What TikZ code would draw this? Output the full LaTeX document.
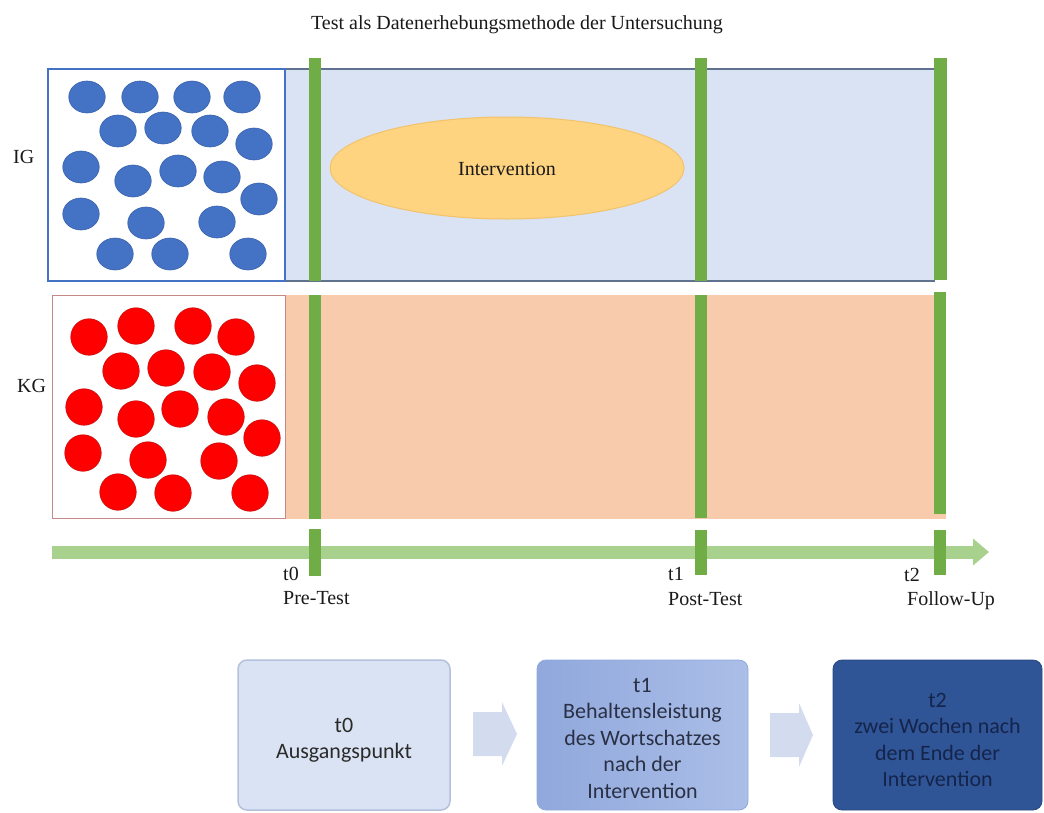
\documentclass[tikz,border=0pt]{standalone}
\usepackage{fontspec}
\setmainfont{Liberation Serif}
\newfontfamily\calib{Carlito}
\usetikzlibrary{shapes.geometric,arrows.meta,calc}
\definecolor{igfill}{HTML}{DAE3F3}
\definecolor{igframe}{HTML}{61728F}
\definecolor{igbox}{HTML}{4472C4}
\definecolor{kgfill}{HTML}{F8CBAD}
\definecolor{kgbox}{HTML}{C48A8A}
\definecolor{bargreen}{HTML}{70AD47}
\definecolor{linegreen}{HTML}{A9D18E}
\definecolor{dotblue}{HTML}{4472C4}
\definecolor{dotblueedge}{HTML}{3A62AC}
\definecolor{dotred}{HTML}{FF0000}
\definecolor{dotrededge}{HTML}{C81010}
\definecolor{ellfill}{HTML}{FFD480}
\definecolor{elledge}{HTML}{F2C26C}
\definecolor{boxA}{HTML}{DAE3F3}
\definecolor{boxAedge}{HTML}{B3C1DC}
\definecolor{boxBl}{HTML}{90A8DC}
\definecolor{boxBr}{HTML}{ABBEE7}
\definecolor{boxC}{HTML}{2F5597}
\definecolor{arrfill}{HTML}{D3DCEE}
\definecolor{txtA}{HTML}{2A2A2A}
\definecolor{txtB}{HTML}{2A3045}
\definecolor{txtC}{HTML}{15244A}
\begin{document}
\begin{tikzpicture}[x=1pt,y=-1pt,
  serif/.style={font=\fontsize{20}{24}\selectfont, inner sep=0, text=black!90},
  dotB/.style={ellipse, minimum width=36.5, minimum height=32, inner sep=0, fill=dotblue, draw=dotblueedge, line width=0.6},
  dotR/.style={circle, minimum size=36.5, inner sep=0, fill=dotred, draw=dotrededge, line width=0.6},
  gbar/.style={fill=bargreen},
  stagebox/.style={rectangle, rounded corners=9, minimum height=150, inner sep=0},
  stagetext/.style={font=\calib\fontsize{22}{26.5}\selectfont, align=center, inner sep=0},
  stagearrow/.style={fill=arrfill}
]
\useasboundingbox (0,0) rectangle (1044,812);

% title
\node[serif, anchor=base] (title) at (517,29) {Test als Datenerhebungsmethode der Untersuchung};

% IG group
\fill[igfill] (48,69) rectangle (935,281);
\draw[igframe, line width=2] (285,69) -- (935,69);
\draw[igframe, line width=2] (285,281) -- (935,281);
\draw[igbox, line width=2, fill=white] (48,69) rectangle (285,281);
\node[serif, anchor=base west] (iglab) at (13,163) {IG};

% KG group
\fill[kgfill] (285,295) rectangle (946,519);
\draw[kgbox, line width=1, fill=white] (52,295) rectangle (285,518);
\node[serif, anchor=base west] (kglab) at (17,392) {KG};

% intervention ellipse
\node[ellipse, fill=ellfill, draw=elledge, line width=1, minimum width=354, minimum height=102, inner sep=0] (interv) at (507,168) {};
\node[serif, anchor=base] (intervlab) at (507,175) {Intervention};

% blue dots
\foreach \i/\x/\y in {1/87/97, 2/140/97, 3/192/97, 4/242/97,
  5/118/131, 6/163/128, 7/210/131, 8/254/144,
  9/81/167, 10/133/181, 11/178/171, 12/222/177, 13/259/199,
  14/81/214, 15/146/223, 16/217/222,
  17/115/254, 18/170/254, 19/248/254}
  \node[dotB] (ig\i) at (\x,\y) {};

% red dots
\foreach \i/\x/\y in {1/89/337, 2/136/326, 3/193/326, 4/236/337,
  5/121/371, 6/166/368, 7/212/372, 8/257/383,
  9/84/407, 10/136/419, 11/180/409, 12/226/417, 13/262/438,
  14/83/453, 15/148/460, 16/219/461,
  17/118/492, 18/173/493, 19/250/493}
  \node[dotR] (kg\i) at (\x,\y) {};

% green bars in groups
\fill[gbar] (309,58) rectangle (321,281);
\fill[gbar] (695,58) rectangle (707,281);
\fill[gbar] (934,58) rectangle (947,280);
\fill[gbar] (309,295) rectangle (321,519);
\fill[gbar] (695,295) rectangle (707,518);
\fill[gbar] (934,292) rectangle (946,514);

% timeline
\coordinate (tlS) at (52,552);
\coordinate (tlE) at (989,552);
\draw[linegreen, line width=13, -{Triangle[width=26,length=16]}] (tlS) -- (tlE);
\fill[gbar] (309,529) rectangle (321,576);
\fill[gbar] (695,530) rectangle (707,575);
\fill[gbar] (934,530) rectangle (946,575);

\node[serif, anchor=base west] (t0) at (283,580) {t0};
\node[serif, anchor=base west] (pre) at (283,604) {Pre-Test};
\node[serif, anchor=base west] (t1) at (668,580) {t1};
\node[serif, anchor=base west] (post) at (668,605) {Post-Test};
\node[serif, anchor=base west] (t2) at (904,581) {t2};
\node[serif, anchor=base west] (fu) at (907,605) {Follow-Up};

% bottom stages
\node[stagebox, minimum width=212, fill=boxA, draw=boxAedge, line width=1.5] (b1) at (344,735) {};
\node[stagebox, minimum width=211, left color=boxBl, right color=boxBr, draw=boxBl, line width=0.8] (b2) at (642.5,735) {};
\node[stagebox, minimum width=209, fill=boxC, draw=boxC!85!black, line width=0.8] (b3) at (937.5,735) {};

\node[stagetext, text=txtA] (b1t) at ($(b1.center)+(0,5)$) {t0\\Ausgangspunkt};
\node[stagetext, text=txtB] (b2t) at ($(b2.center)+(0,3)$) {t1\\Behaltensleistung\\des Wortschatzes\\nach der\\Intervention};
\node[stagetext, text=txtC] (b3t) at ($(b3.center)+(0,5)$) {\color{txtC}t2\\\color{txtC}zwei Wochen nach\\\color{txtC}dem Ende der\\\color{txtC}Intervention};

% stage arrows
\fill[stagearrow] (473,712) -- (502,712) -- (502,702) -- (517,734) -- (502,766) -- (502,756) -- (473,756) -- cycle;
\fill[stagearrow] (770,713) -- (799,713) -- (799,703) -- (813,735) -- (799,767) -- (799,757) -- (770,757) -- cycle;
\end{tikzpicture}
\end{document}
